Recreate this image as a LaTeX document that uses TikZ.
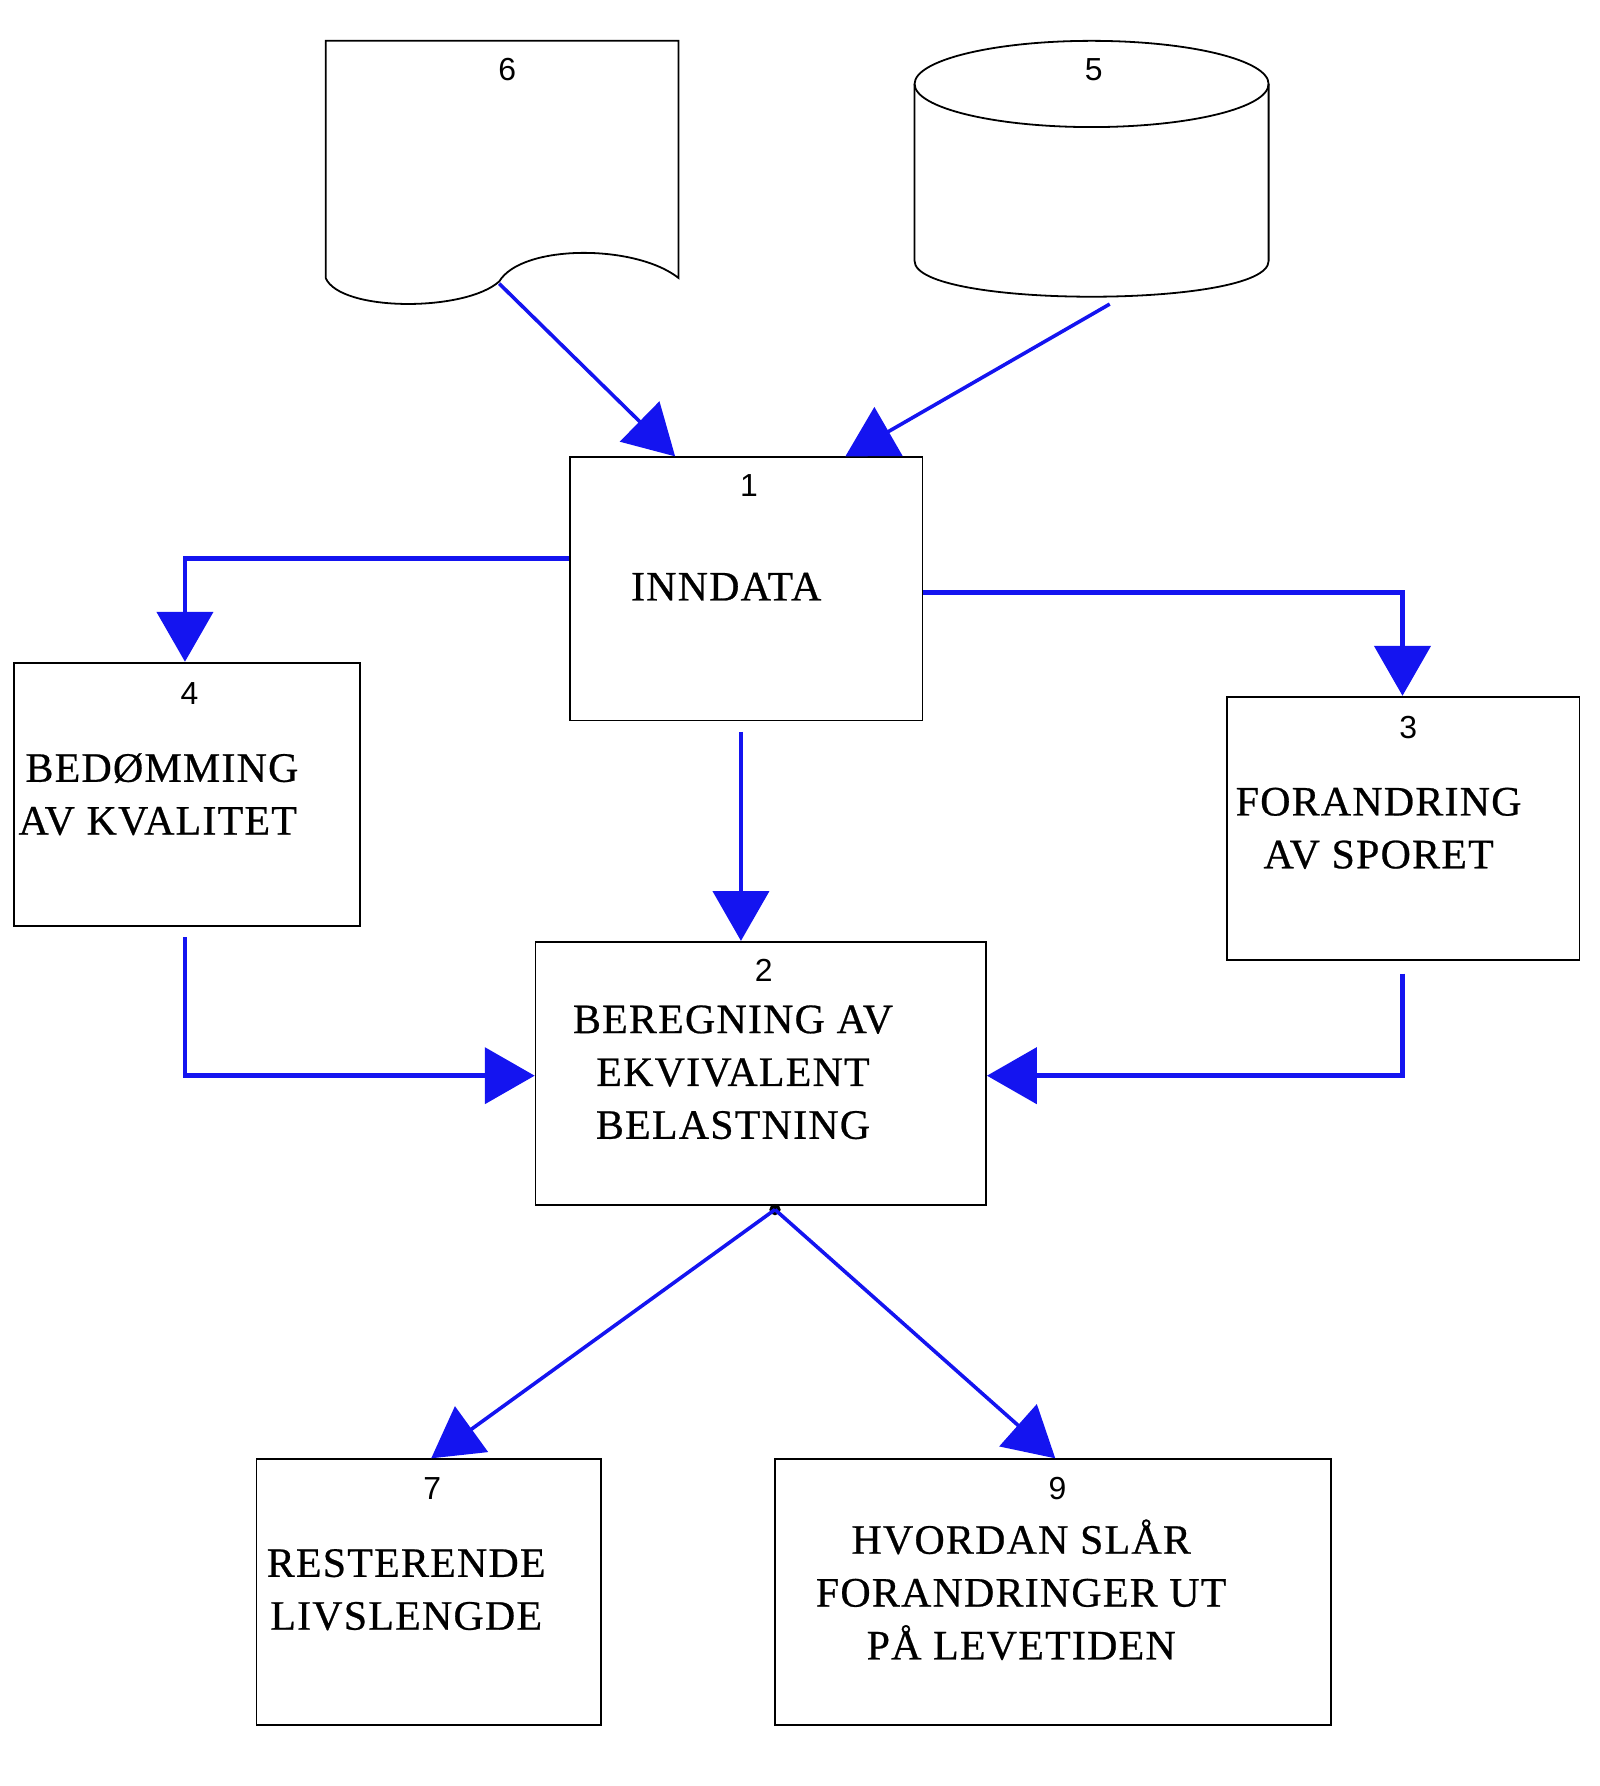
\documentclass[tikz,border=0pt]{standalone}
\usepackage{fontspec}
\setmainfont{Liberation Serif}
\newfontfamily\numf{Liberation Sans}
\newfontfamily\txtf{Liberation Serif}[LetterSpace=3,FakeBold=0.6]
\usetikzlibrary{arrows.meta,fit}
\begin{document}
\begin{tikzpicture}[x=0.02cm,y=-0.02cm,
  box/.style={draw=black,line width=0.9pt,inner sep=0pt,fit={#1}},
  num/.style={font=\numf\fontsize{16}{18}\selectfont},
  txt/.style={font=\txtf\fontsize{21}{26.5}\selectfont,align=center,inner sep=0pt},
  arr/.style={draw={rgb,255:red,20;green,20;blue,240},line width=2.4pt,-{Triangle[length=25pt,width=28pt]}},
  darr/.style={arr,line width=1.8pt}]
\useasboundingbox (0,0) rectangle (1410,1574);
% document 6
\draw[line width=0.9pt] (287,245) -- (287,36) -- (598,36) -- (598,245)
  .. controls (560,215) and (460,215) .. (440,248)
  .. controls (410,275) and (300,275) .. (287,245);
\node[num] at (447,61) {6};
\coordinate (d6) at (440,250);
% cylinder 5
\draw[line width=0.9pt] (962,74) ellipse [x radius=156, y radius=38];
\draw[line width=0.9pt] (806,74) -- (806,230) .. controls (806,272) and (1118,272) .. (1118,230) -- (1118,74);
\node[num] at (964,61) {5};
\coordinate (c5) at (978,268);
% boxes
\node[box={(502,403) (813,635)}] (n1) {};
\node[num] at (660,428) {1};
\node[txt] at (640,517) {INNDATA};
\node[box={(12,584) (317,816)}] (n4) {};
\node[num] at (167,611) {4};
\node[txt,align=left,anchor=west] at (16,700) {\,BEDØMMING\\AV KVALITET};
\node[box={(1081,614) (1392,846)}] (n3) {};
\node[num] at (1241,641) {3};
\node[txt] at (1215,730) {FORANDRING\\AV SPORET};
\node[box={(472,830) (869,1062)}] (n2) {};
\node[num] at (673,855) {2};
\node[txt] at (646,945) {BEREGNING AV\\EKVIVALENT\\BELASTNING};
\node[box={(226,1286) (530,1520)}] (n7) {};
\node[num] at (381,1312) {7};
\node[txt] at (358,1401) {RESTERENDE\\LIVSLENGDE};
\node[box={(683,1286) (1173,1520)}] (n9) {};
\node[num] at (932,1312) {9};
\node[txt] at (900,1401) {HVORDAN SLÅR\\FORANDRINGER UT\\PÅ LEVETIDEN};
\coordinate (b2) at (683,1066);
\fill (b2) circle (5);
% arrows
\draw[darr] (d6) -- (n1.north west -| 595,0);
\draw[darr] (c5) -- (n1.north west -| 745,0);
\draw[arr] (n1.west |- 0,492) -| (n4.north west -| 163,0);
\draw[arr] (n1.east |- 0,522) -| (n3.north west -| 1236,0);
\draw[arr] (653,645) -- (n2.north west -| 653,0);
\draw[arr] (163,826) |- (n2.west |- 0,948);
\draw[arr] (1236,858) |- (n2.east |- 0,948);
\draw[darr] (b2) -- (n7.north west -| 380,0);
\draw[darr] (b2) -- (n9.north west -| 930,0);
\end{tikzpicture}
\end{document}
